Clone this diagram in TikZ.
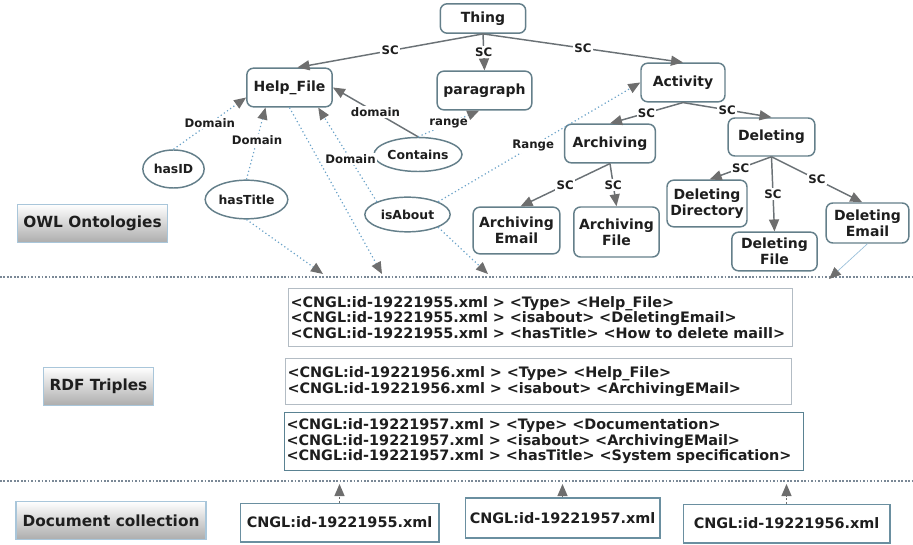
\documentclass[tikz,border=0pt]{standalone}
\usepackage{fontspec}
\setmainfont{DejaVu Sans}
\usetikzlibrary{arrows.meta,shapes.geometric}
\definecolor{ink}{HTML}{1E1E1E}
\definecolor{nodeline}{HTML}{647F8A}
\definecolor{scline}{HTML}{6B7276}
\definecolor{dotblue}{HTML}{6AA2C8}
\definecolor{tipgray}{HTML}{6E6E6E}
\definecolor{sepcol}{HTML}{7A8896}
\definecolor{layerline}{HTML}{A9C6DA}
\definecolor{docline}{HTML}{6A8FA0}
\definecolor{tripA}{HTML}{B3BCC4}
\definecolor{tripC}{HTML}{5A8292}

\tikzset{
  cls/.style={draw=nodeline, line width=1.1pt, rounded corners=5pt, fill=white, align=center,
    inner sep=2pt, text=ink, font=\fontsize{10.5}{11.8}\selectfont\bfseries},
  prop/.style={ellipse, draw=nodeline, line width=1.1pt, fill=white, inner sep=0pt, text=ink,
    font=\fontsize{9.3}{11}\selectfont\bfseries},
  layer/.style={draw=layerline, line width=0.8pt, top color=white, bottom color=gray!65,
    minimum height=29pt, text=ink, font=\fontsize{11.5}{13}\selectfont\bfseries},
  triple/.style={line width=0.8pt, fill=white, anchor=west, align=left, inner xsep=1.5pt,
    text=ink, font=\fontsize{10.8}{11.6}\selectfont\bfseries},
  doc/.style={draw=docline, line width=1pt, fill=white, minimum height=29pt, text=ink,
    font=\fontsize{10.8}{12}\selectfont\bfseries},
  sc/.style={draw=scline, line width=1.1pt, -{Triangle[length=9pt,width=7.5pt,color=tipgray]}},
  lnk/.style={draw=dotblue, line width=0.9pt, dotted, -{Triangle[length=9pt,width=7.5pt,color=tipgray]}},
  uplnk/.style={draw=tipgray, line width=0.9pt, dotted, -{Triangle[length=9pt,width=7.5pt,color=tipgray]}},
  lbl/.style={fill=white, inner sep=1pt, text=ink, font=\fontsize{8.8}{10}\selectfont\bfseries},
  sep/.style={draw=sepcol, line width=1.8pt, dash pattern=on 1.3pt off 1.3pt},
}

\begin{document}
\begin{tikzpicture}[x=0.75pt, y=-0.75pt]
  \useasboundingbox (0,0) rectangle (913,545);

  \draw[sep] (0,277) -- (913,277);
  \draw[sep] (0,481) -- (913,481);

  % ontology classes
  \node[cls, minimum width=64pt, minimum height=22pt] (thing) at (483,18.5) {Thing};
  \node[cls, minimum width=64pt, minimum height=29pt] (help) at (289.5,87.5) {Help\_File};
  \node[cls, minimum width=71pt, minimum height=29pt] (para) at (484.5,90.5) {paragraph};
  \node[cls, minimum width=63pt, minimum height=29pt] (act) at (683,82.5) {Activity};
  \node[cls, minimum width=68pt, minimum height=29pt] (arch) at (610,143.5) {Archiving};
  \node[cls, minimum width=65pt, minimum height=28.5pt] (del) at (771.5,137) {Deleting};
  \node[cls, minimum width=65pt, minimum height=35pt] (archmail) at (516.5,230.5) {Archiving\\Email};
  \node[cls, minimum width=64pt, minimum height=37.5pt] (archfile) at (616.5,232) {Archiving\\File};
  \node[cls, minimum width=60pt, minimum height=35pt] (deldir) at (707,203.5) {Deleting\\Directory};
  \node[cls, minimum width=64pt, minimum height=29pt] (delfile) at (774.5,251.5) {Deleting\\File};
  \node[cls, minimum width=62pt, minimum height=30pt] (delmail) at (867.5,223) {Deleting\\Email};

  % properties
  \node[prop, minimum width=46pt, minimum height=28.5pt] (hasid) at (173.5,169) {hasID};
  \node[prop, minimum width=62pt, minimum height=29pt] (hastitle) at (246.5,199.5) {hasTitle};
  \node[prop, minimum width=66pt, minimum height=25.5pt] (contains) at (418,154.5) {Contains};
  \node[prop, minimum width=64pt, minimum height=26pt] (isabout) at (407.5,214.5) {isAbout};

  % layer names
  \node[layer, minimum width=113pt] (owl) at (92.5,223.5) {OWL Ontologies};
  \node[layer, minimum width=82pt] (rdf) at (98.5,386.5) {RDF Triples};
  \node[layer, minimum width=142.5pt] (coll) at (111,520.5) {Document collection};

  % triples
  \node[triple, draw=tripA, text width=375pt, minimum height=44pt] (r1) at (288,317.5)
    {<CNGL:id-19221955.xml > <Type> <Help\_File>\\
     <CNGL:id-19221955.xml > <isabout> <DeletingEmail>\\
     <CNGL:id-19221955.xml > <hasTitle> <How to delete maill>};
  \node[triple, draw=tripA, text width=376.5pt, minimum height=35pt] (r2) at (285,381.5)
    {<CNGL:id-19221956.xml > <Type> <Help\_File>\\
     <CNGL:id-19221956.xml > <isabout> <ArchivingEMail>};
  \node[triple, draw=tripC, text width=386pt, minimum height=43pt] (r3) at (284,441.5)
    {<CNGL:id-19221957.xml > <Type> <Documentation>\\
     <CNGL:id-19221957.xml > <isabout> <ArchivingEMail>\\
     <CNGL:id-19221957.xml > <hasTitle> <System specification>};

  % documents
  \node[doc, minimum width=149pt] (d1) at (339.5,522.5) {CNGL:id-19221955.xml};
  \node[doc, minimum width=146pt, minimum height=30pt] (d2) at (562.5,518) {CNGL:id-19221957.xml};
  \node[doc, minimum width=155pt] (d3) at (786.5,523.5) {CNGL:id-19221956.xml};

  \coordinate (t1) at (323,274);
  \coordinate (t2) at (382,274);
  \coordinate (t3) at (488,274);
  \coordinate (t4) at (829,279);
  \coordinate (sepb) at (0,484);

  % subclass links
  \draw[sc] (thing.south) -- node[lbl] {SC} ([xshift=6pt]help.north);
  \draw[sc] (thing.south) -- node[lbl] {SC} (para.north);
  \draw[sc] (thing.south) -- node[lbl] {SC} (act.north);
  \draw[sc] (act.south) -- node[lbl] {SC} (arch.north);
  \draw[sc] (act.south) -- node[lbl] {SC} (del.north);
  \draw[sc] (arch.south) -- node[lbl] {SC} ([xshift=3pt]archmail.north);
  \draw[sc] (arch.south) -- node[lbl] {SC} (archfile.north);
  \draw[sc] (del.south) -- node[lbl] {SC} ([xshift=2pt]deldir.north);
  \draw[sc] (del.south) -- node[lbl] {SC} (delfile.north);
  \draw[sc] (del.south) -- node[lbl] {SC} ([xshift=-4pt]delmail.north);

  % domains and ranges
  \draw[lnk] (hasid.north) -- node[lbl] {Domain} ([yshift=-7.5pt]help.west);
  \draw[lnk] (hastitle.north) -- node[lbl, pos=0.55] {Domain} ([xshift=-18pt]help.south);
  \draw[lnk] (isabout.north west) -- node[lbl, pos=0.45] {Domain} ([xshift=-11pt]help.south east);
  \draw[sc] (contains.north) -- node[lbl] {domain} (help.east);
  \draw[lnk] (contains.north) -- node[lbl] {range} ([xshift=-4pt]para.south);
  \draw[lnk] (isabout.north east) -- node[lbl, pos=0.47] {Range} (act.west);

  % links into the triples
  \draw[lnk] (hastitle.south) -- (t1);
  \draw[lnk] (help.south) -- (t2);
  \draw[lnk] (isabout.south east) -- (t3);
  \draw[draw=dotblue!70, line width=0.5pt, -{Triangle[length=9pt,width=7.5pt,color=tipgray]}] (delmail.south) -- (t4);
  \draw[uplnk] (d1.north) -- (d1.north |- sepb);
  \draw[uplnk] (d2.north) -- (d2.north |- sepb);
  \draw[uplnk] (d3.north) -- (d3.north |- sepb);
\end{tikzpicture}
\end{document}
